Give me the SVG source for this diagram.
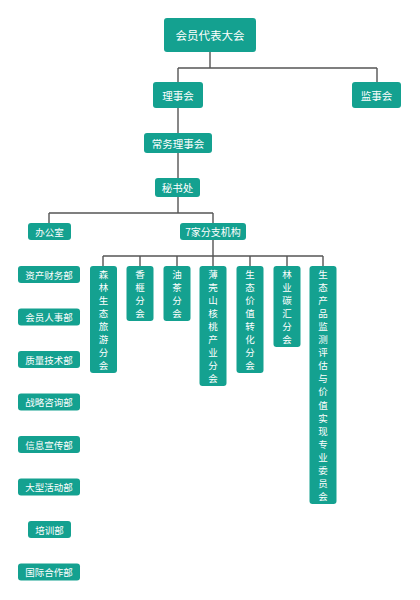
<svg xmlns="http://www.w3.org/2000/svg" width="420" height="600" viewBox="0 0 420 600">
<style>
.b{fill:#14a190;}
.t{fill:#ffffff;font-family:"Noto Sans CJK SC","Noto Sans",sans-serif;text-anchor:middle;dominant-baseline:central;}
.c{fill:none;stroke:#555555;stroke-width:1.4;}
</style>
<rect width="420" height="600" fill="#ffffff"/>
<g id="connectors">
<path class="c" d="M210,52V68M178,68H377M178,68V82M377,68V82M178,108V133M178,153V178M178,197V213M49,213H213M49,213V223M213,213V223M213,240V256M103,256H323M103,256V266M140,256V266M177,256V266M213,256V266M250,256V266M287,256V266M323,256V266"/>
</g>
<g id="n_hydbdh"><rect class="b" x="164" y="18" width="92" height="34" rx="3"/><text class="t" x="210" y="35" font-size="11.5">会员代表大会</text></g>
<g id="n_lsh"><rect class="b" x="153" y="82" width="50" height="26" rx="3"/><text class="t" x="178" y="95" font-size="10.5">理事会</text></g>
<g id="n_jsh"><rect class="b" x="352" y="82" width="49" height="26" rx="3"/><text class="t" x="376.5" y="95" font-size="10.5">监事会</text></g>
<g id="n_cwlsh"><rect class="b" x="144" y="133" width="68" height="20" rx="3"/><text class="t" x="178" y="143" font-size="10.5">常务理事会</text></g>
<g id="n_msc"><rect class="b" x="155" y="178" width="45" height="19" rx="3"/><text class="t" x="177.5" y="187.5" font-size="10.5">秘书处</text></g>
<g id="n_bgs"><rect class="b" x="28" y="223" width="43" height="17" rx="3"/><text class="t" x="49.5" y="231.5" font-size="9.5">办公室</text></g>
<g id="n_fzjg"><rect class="b" x="180" y="223" width="66" height="17" rx="3"/><text class="t" x="213" y="231.5" font-size="10">7家分支机构</text></g>
<g id="n_zccwb"><rect class="b" x="18" y="266" width="62" height="17" rx="3"/><text class="t" x="49" y="274.5" font-size="9.5">资产财务部</text></g>
<g id="n_hyrsb"><rect class="b" x="18" y="308.5" width="62" height="17" rx="3"/><text class="t" x="49" y="317" font-size="9.5">会员人事部</text></g>
<g id="n_zljsb"><rect class="b" x="18" y="351" width="62" height="17" rx="3"/><text class="t" x="49" y="359.5" font-size="9.5">质量技术部</text></g>
<g id="n_zlzxb"><rect class="b" x="18" y="393.5" width="62" height="17" rx="3"/><text class="t" x="49" y="402" font-size="9.5">战略咨询部</text></g>
<g id="n_xxxcb"><rect class="b" x="18" y="436" width="62" height="17" rx="3"/><text class="t" x="49" y="444.5" font-size="9.5">信息宣传部</text></g>
<g id="n_dxhdb"><rect class="b" x="18" y="478.5" width="62" height="17" rx="3"/><text class="t" x="49" y="487" font-size="9.5">大型活动部</text></g>
<g id="n_pxb"><rect class="b" x="28" y="521" width="43" height="17" rx="3"/><text class="t" x="49.5" y="529.5" font-size="9.5">培训部</text></g>
<g id="n_gjhzb"><rect class="b" x="18" y="563.5" width="62" height="17" rx="3"/><text class="t" x="49" y="572" font-size="9.5">国际合作部</text></g>
<g id="n_slst"><rect class="b" x="90" y="266" width="27" height="107" rx="3"/>
<text class="t" font-size="9.5"><tspan x="103.5" y="273.5">森</tspan><tspan x="103.5" y="286.6">林</tspan><tspan x="103.5" y="299.7">生</tspan><tspan x="103.5" y="312.8">态</tspan><tspan x="103.5" y="325.9">旅</tspan><tspan x="103.5" y="339">游</tspan><tspan x="103.5" y="352.1">分</tspan><tspan x="103.5" y="365.2">会</tspan></text></g>
<g id="n_xf"><rect class="b" x="126.5" y="266" width="27" height="55" rx="3"/>
<text class="t" font-size="9.5"><tspan x="140" y="273.5">香</tspan><tspan x="140" y="286.6">榧</tspan><tspan x="140" y="299.7">分</tspan><tspan x="140" y="312.8">会</tspan></text></g>
<g id="n_yc"><rect class="b" x="163.5" y="266" width="27" height="55" rx="3"/>
<text class="t" font-size="9.5"><tspan x="177" y="273.5">油</tspan><tspan x="177" y="286.6">茶</tspan><tspan x="177" y="299.7">分</tspan><tspan x="177" y="312.8">会</tspan></text></g>
<g id="n_bksht"><rect class="b" x="199.5" y="266" width="27" height="120" rx="3"/>
<text class="t" font-size="9.5"><tspan x="213" y="273.5">薄</tspan><tspan x="213" y="286.6">壳</tspan><tspan x="213" y="299.7">山</tspan><tspan x="213" y="312.8">核</tspan><tspan x="213" y="325.9">桃</tspan><tspan x="213" y="339">产</tspan><tspan x="213" y="352.1">业</tspan><tspan x="213" y="365.2">分</tspan><tspan x="213" y="378.3">会</tspan></text></g>
<g id="n_stjz"><rect class="b" x="236.5" y="266" width="27" height="107" rx="3"/>
<text class="t" font-size="9.5"><tspan x="250" y="273.5">生</tspan><tspan x="250" y="286.6">态</tspan><tspan x="250" y="299.7">价</tspan><tspan x="250" y="312.8">值</tspan><tspan x="250" y="325.9">转</tspan><tspan x="250" y="339">化</tspan><tspan x="250" y="352.1">分</tspan><tspan x="250" y="365.2">会</tspan></text></g>
<g id="n_lyth"><rect class="b" x="273.5" y="266" width="27" height="81" rx="3"/>
<text class="t" font-size="9.5"><tspan x="287" y="273.5">林</tspan><tspan x="287" y="286.6">业</tspan><tspan x="287" y="299.7">碳</tspan><tspan x="287" y="312.8">汇</tspan><tspan x="287" y="325.9">分</tspan><tspan x="287" y="339">会</tspan></text></g>
<g id="n_stcp"><rect class="b" x="309.5" y="266" width="27" height="238" rx="3"/>
<text class="t" font-size="9.5"><tspan x="323" y="273.5">生</tspan><tspan x="323" y="286.6">态</tspan><tspan x="323" y="299.7">产</tspan><tspan x="323" y="312.8">品</tspan><tspan x="323" y="325.9">监</tspan><tspan x="323" y="339">测</tspan><tspan x="323" y="352.1">评</tspan><tspan x="323" y="365.2">估</tspan><tspan x="323" y="378.3">与</tspan><tspan x="323" y="391.4">价</tspan><tspan x="323" y="404.5">值</tspan><tspan x="323" y="417.6">实</tspan><tspan x="323" y="430.7">现</tspan><tspan x="323" y="443.8">专</tspan><tspan x="323" y="456.9">业</tspan><tspan x="323" y="470">委</tspan><tspan x="323" y="483.1">员</tspan><tspan x="323" y="496.2">会</tspan></text></g>
</svg>
